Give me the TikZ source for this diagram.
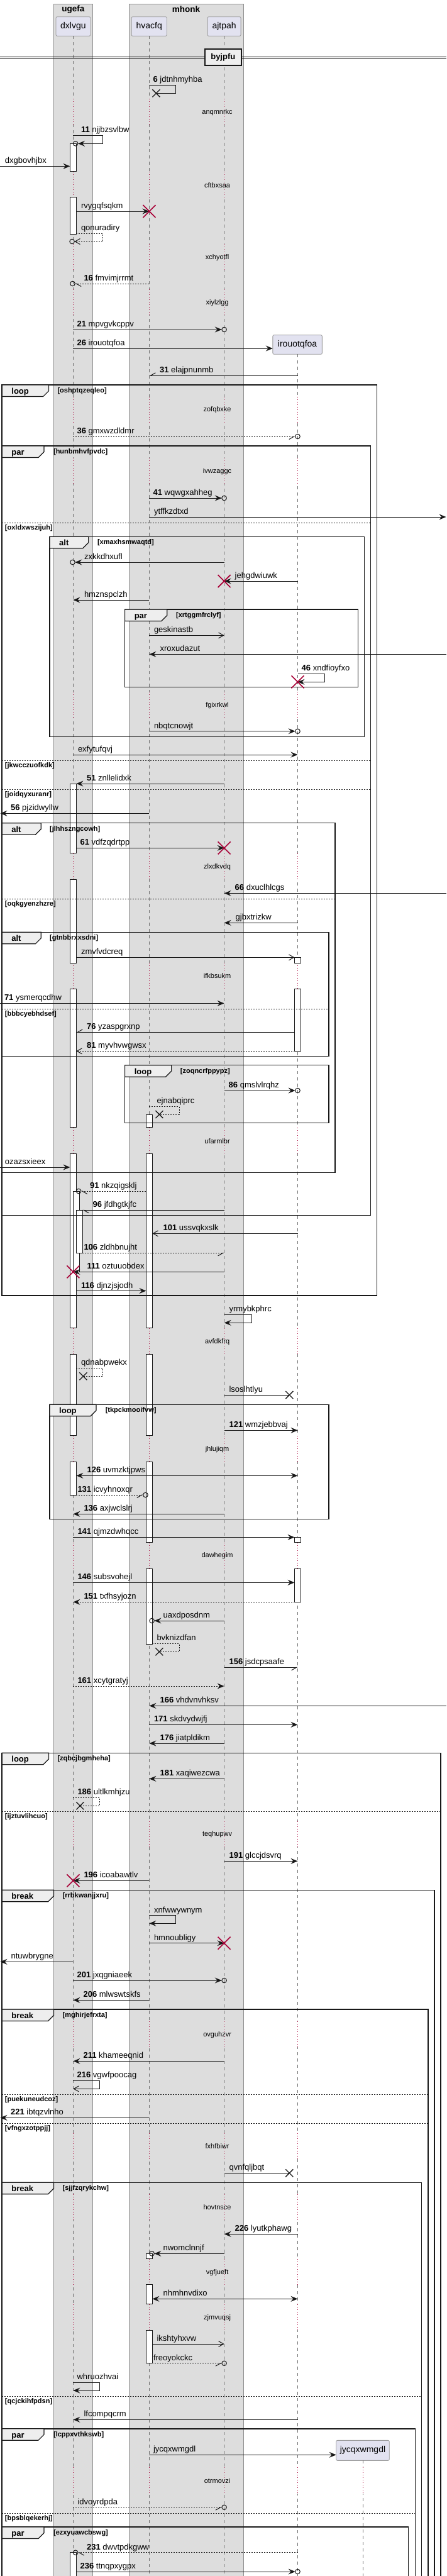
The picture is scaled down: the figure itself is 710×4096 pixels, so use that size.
\documentclass[tikz,border=0pt]{standalone}
\usepackage{fontspec}
\setmainfont{Liberation Sans}
\usetikzlibrary{arrows.meta}
\definecolor{grp}{HTML}{DDDDDD}
\definecolor{grpb}{HTML}{8E8E8E}
\definecolor{partf}{HTML}{E2E2F0}
\definecolor{partb}{HTML}{9A9A9A}
\definecolor{crim}{HTML}{A80036}
\definecolor{tabf}{HTML}{EEEEEE}
\definecolor{ink}{HTML}{181818}
\definecolor{lifec}{HTML}{707070}
\tikzset{
 part/.style={draw=partb,fill=partf,rounded corners=2pt,inner sep=0pt,minimum height=30.6pt,font=\fontsize{14}{16}\selectfont,line width=0.8pt},
 gtitle/.style={inner sep=0pt,font=\bfseries\fontsize{13.5}{15}\selectfont},
 life/.style={draw=lifec,line width=0.8pt,dash pattern=on 5pt off 5pt},
 dly/.style={draw=crim,line width=0.8pt,dash pattern=on 1pt off 3pt},
 dtext/.style={font=\fontsize{11}{13}\selectfont,inner sep=0pt},
 lab/.style={anchor=base west,inner sep=0pt,font=\fontsize{13}{15}\selectfont},
 msg/.style={draw=ink,line width=1pt},
 ret/.style={dash pattern=on 2pt off 2pt},
 fa/.style={-{Stealth[length=11pt,width=9pt,inset=4pt]}},
 ba/.style={{Stealth[length=11pt,width=9pt,inset=4pt]}-{Stealth[length=11pt,width=9pt,inset=4pt]}},
 oa/.style={-{Straight Barb[length=8pt,width=9pt]}},
 ha/.style={-{Straight Barb[harpoon,length=8pt,width=9pt]}},
 hb/.style={-{Straight Barb[harpoon,swap,length=8pt,width=9pt]}},
 frame/.style={draw=ink,line width=1.5pt},
 sepl/.style={draw=ink,line width=1pt,dash pattern=on 2pt off 2pt},
 tabt/.style={anchor=base west,inner sep=0pt,font=\bfseries\fontsize{13}{15}\selectfont},
 cond/.style={anchor=west,inner sep=0pt,font=\bfseries\fontsize{11}{13}\selectfont},
 actbar/.style={draw=ink,fill=white,line width=1pt},
}
\newcommand\qMsg[6]{%
 \coordinate (ms) at (#2,#1); \coordinate (mt) at (#3,#1);
 \draw[msg,#4] (ms) -- (mt);
 \node[lab] at (#5,#1-4.5) {#6};}
\newcommand\qSelf[8]{%
 \coordinate (ss) at (#1,#2); \coordinate (sa) at (#3,#2);
 \coordinate (sb) at (#3,#4); \coordinate (se) at (#5,#4);
 \draw[msg,#6] (ss) -- (sa) -- (sb) -- (se);
 \node[lab] at (#7,#2-4.5) {#8};}
\newcommand\qCirc[2]{\draw[ink,line width=1pt] (#1,#2) circle (3.8);}
\newcommand\qRX[2]{\draw[crim,line width=1.6pt] (#1-10,#2-10) -- (#1+10,#2+10) (#1-10,#2+10) -- (#1+10,#2-10);}
\newcommand\qBX[2]{\draw[ink,line width=1.3pt] (#1-6,#2-6) -- (#1+6,#2+6) (#1-6,#2+6) -- (#1+6,#2-6);}
\newcommand\qBar[3]{\draw[actbar] (#1-5,#2) rectangle (#1+5,#3);}
\newcommand\qFrm[8]{%
 \draw[frame] (#1,#2) rectangle (#3,#4);
 \filldraw[fill=tabf,draw=ink,line width=1.2pt] (#1,#2) -- (#6,#2) -- (#6,#2+9.5) -- (#6-9,#2+18.5) -- (#1,#2+18.5) -- cycle;
 \node[tabt] at (#1+15,#2+14.5) {#5};
 \node[cond] at (#8,#2+9.7) {#7};}
\newcommand\qSep[4]{%
 \draw[sepl] (#1,#3) -- (#2,#3);
 \node[cond] at (7.8,#3+8.3) {#4};}
\begin{document}
\begin{tikzpicture}[x=1pt,y=-1pt]
\useasboundingbox (0,0) rectangle (710,4096);
\clip (0,0) rectangle (710,4096);
\fill[white] (0,0) rectangle (710,4096);
% group boxes
\draw[fill=grp,draw=grpb,line width=1pt] (85.4,6) rectangle (147.5,4200);
\draw[fill=grp,draw=grpb,line width=1pt] (205,6) rectangle (387.6,4200);
\node[gtitle] (gU) at (116.4,14.7) {ugefa};
\node[gtitle] (gM) at (295.9,14.7) {mhonk};
% participants
\node[part,minimum width=54.8pt] (pA) at (116.4,42) {dxlvgu};
\node[part,minimum width=56.2pt] (pB) at (237.2,42) {hvacfq};
\node[part,minimum width=53pt] (pC) at (356.6,42) {ajtpah};
\node[part,minimum width=78.5pt] (pD) at (473.1,548) {irouotqfoa};
\node[part,minimum width=84.5pt,minimum height=32pt] (pE) at (577,3896.3) {jycqxwmgdl};
% lifelines
\coordinate (eA) at (116.4,4200); \coordinate (eB) at (237.4,4200);
\coordinate (eC) at (356.6,4200); \coordinate (eD) at (473.5,4200);
\coordinate (eE) at (577.1,4200);
\draw[life] (116.4,57.3) -- (eA);
\draw[life] (237.4,57.3) -- (eB);
\draw[life] (356.6,57.3) -- (eC);
\draw[life] (473.5,563.3) -- (eD);
\draw[life] (577.1,3912.3) -- (eE);
% delays
\foreach \yy/\dt in {178.3/anqmnrkc,294.3/cftbxsaa,409.3/xchyotfl,481.3/xiylzlgg}{
  \foreach \xx in {116.4,237.4,356.6}{
    \fill[grp] (\xx-1.5,\yy-21.3) rectangle (\xx+1.5,\yy+20);
    \draw[dly] (\xx,\yy-21.3) -- (\xx,\yy+20);}
  \node[dtext] at (345.6,\yy) {\dt};}
\foreach \yy/\dt in {652/zofqbxke,749.3/ivwzaggc,1121.3/fgixrkwl,1378.3/zlxdkvdq,1552/ifkbsukm,1814.3/ufarmlbr,2133.3/avfdkfrq,2304.3/jhlujiqm,2474/dawhegim,2917/teqhupwv,3235.3/ovguhzvr,3413/fxhfbiwr,3510/hovtnsce,3613.3/vgfjueft,3685.3/zjmvuqsj}{
  \foreach \xx in {116.4,237.4,356.6}{
    \fill[grp] (\xx-1.5,\yy-21.3) rectangle (\xx+1.5,\yy+20);
    \draw[dly] (\xx,\yy-21.3) -- (\xx,\yy+20);}
  \fill[white] (473.5-1.5,\yy-21.3) rectangle (473.5+1.5,\yy+20);
  \draw[dly] (473.5,\yy-21.3) -- (473.5,\yy+20);
  \node[dtext] at (345.6,\yy) {\dt};}
\foreach \yy/\dt in {3944.7/otrmovzi}{
  \foreach \xx in {116.4,237.4,356.6}{
    \fill[grp] (\xx-1.5,\yy-21.3) rectangle (\xx+1.5,\yy+20);
    \draw[dly] (\xx,\yy-21.3) -- (\xx,\yy+20);}
  \foreach \xx in {473.5,577.1}{
    \fill[white] (\xx-1.5,\yy-21.3) rectangle (\xx+1.5,\yy+20);
    \draw[dly] (\xx,\yy-21.3) -- (\xx,\yy+20);}
  \node[dtext] at (345.6,\yy) {\dt};}
% divider
\draw[ink,line width=1.2pt] (0,90.7) -- (710,90.7) (0,93.3) -- (710,93.3);
\node[draw=ink,fill=tabf,line width=2pt,minimum width=58pt,minimum height=26pt,inner sep=0pt,font=\bfseries\fontsize{13}{15}\selectfont] (dv) at (354.8,91) {byjpfu};
% activation bars
\qBar{116.4}{228.3}{272.3}
\qBar{116.4}{313.3}{372}
\qBar{116.4}{1246}{1356.7}
\qBar{116.4}{1398}{1531.3}
\qBar{116.4}{1572}{1792.7}
\qBar{116.4}{1834}{2111.3}
\qBar{116.4}{2153}{2282.7}
\qBar{116.4}{2324}{2377}
\qBar{116.4}{4058.7}{4120}
\qBar{121.4}{1894}{2022.3}
\qBar{126.4}{1924.3}{1992.3}
\qBar{237.4}{1772}{1792.7}
\qBar{237.4}{1834}{2111.3}
\qBar{237.4}{2153}{2282.7}
\qBar{237.4}{2324}{2452.7}
\qBar{237.4}{2494}{2614}
\qBar{237.4}{3583.3}{3591.7}
\qBar{237.4}{3632.7}{3663.3}
\qBar{237.4}{3705}{3757.7}
\qBar{473.5}{1522.3}{1531.3}
\qBar{473.5}{1572}{1671.3}
\qBar{473.5}{2444.3}{2452.7}
\qBar{473.5}{2494}{2547.3}
% frames
\qFrm{3.2}{612}{599.5}{2060}{loop}{77.6}{[oshptqzeqleo]}{91.3}
\qFrm{3.2}{709}{589.5}{1932.3}{par}{69.9}{[hunbmhvfpvdc]}{84.9}
\qSep{3.2}{589.5}{831}{[oxldxwszijuh]}
\qSep{3.2}{589.5}{1209}{[jkwcczuofkdk]}
\qSep{3.2}{589.5}{1255.3}{[joidqyxuranr]}
\qFrm{79}{853.3}{579.4}{1171.3}{alt}{140.6}{[xmaxhsmwaqtd]}{154.8}
\qFrm{198.6}{969}{569.4}{1092.3}{par}{265.7}{[xrtggmfrclyf]}{279.9}
\qFrm{3.2}{1308.7}{532.9}{1864.3}{alt}{65.3}{[jlhhszngcowh]}{79}
\qSep{3.2}{532.9}{1429.3}{[oqkgyenzhzre]}
\qFrm{3.2}{1482.3}{522.8}{1679.7}{alt}{65.3}{[gtnbbrxxsdni]}{79}
\qSep{3.2}{522.8}{1604.3}{[bbbcyebhdsef]}
\qFrm{198.6}{1693.7}{522.8}{1785.3}{loop}{272.6}{[zoqncrfppypz]}{286.7}
\qFrm{79}{2233.3}{522.8}{2415.3}{loop}{153}{[tkpckmooifvw]}{167.6}
\qFrm{3.2}{2787.3}{700.9}{4200}{loop}{77.6}{[zqbcjbgmheha]}{91.3}
\qSep{3.2}{700.9}{2880.3}{[ijztuvlihcuo]}
\qFrm{3.2}{3005.3}{690.8}{4200}{break}{85.4}{[rrbkwanjjxru]}{99.5}
\qFrm{3.2}{3195}{680.8}{4200}{break}{85.4}{[mghirjefrxta]}{99.5}
\qSep{3.2}{680.8}{3330.3}{[puekuneudcoz]}
\qSep{3.2}{680.8}{3376.3}{[vfngxzotppjj]}
\qFrm{3.2}{3470.3}{670.7}{4200}{break}{85.4}{[sjjfzqrykchw]}{99.5}
\qSep{3.2}{670.7}{3810.3}{[qcjckihfpdsn]}
\qFrm{3.2}{3861.7}{660.7}{4200}{par}{69.9}{[lcppxvthkswb]}{84.9}
\qSep{3.2}{660.7}{3996.3}{[bpsblqekerhj]}
\qFrm{3.2}{4018}{649.7}{4200}{par}{69.9}{[ezxyuawcbswg]}{84.9}
% messages
\qSelf{237.4}{135.3}{279.9}{148.3}{248.4}{}{243.4}{\textbf{6} jdtnhmyhba}
\qBX{248.4}{148.3}
\qSelf{116.4}{215.3}{163.9}{228.3}{124}{fa}{128.8}{\textbf{11} njjbzsvlbw}
\qCirc{120.1}{228.3}
\qMsg{264.3}{0}{111.4}{fa}{7.8}{dxgbovhjbx}
\qMsg{336}{121.4}{237.4}{fa}{128.8}{rvygqfsqkm}
\qRX{237.4}{336}
\qSelf{121.4}{371.3}{163.9}{384}{118.4}{ret,oa}{128.8}{qonuradiry}
\qCirc{114.6}{384}
\qMsg{451}{237.4}{119.3}{ret,ha}{133.3}{\textbf{16} fmvimjrrmt}
\qCirc{115.5}{451}
\qMsg{524}{116.4}{352.8}{fa}{122.4}{\textbf{21} mpvgvkcppv}
\qCirc{356.6}{524}
\qMsg{554}{116.4}{433.8}{fa}{122.4}{\textbf{26} irouotqfoa}
\qMsg{597.3}{473.5}{237.4}{hb}{253.9}{\textbf{31} elajpnunmb}
\qMsg{694}{116.4}{469.7}{ret,hb}{122.4}{\textbf{36} gmxwzdldmr}
\qCirc{473.5}{694}
\qMsg{792}{237.4}{352.8}{fa}{243.4}{\textbf{41} wqwgxahheg}
\qCirc{356.6}{792}
\qMsg{822}{237.4}{709.5}{fa}{244.8}{ytffkzdtxd}
\qMsg{894}{356.6}{119.3}{fa}{133.8}{zxkkdhxufl}
\qCirc{115.5}{894}
\qMsg{924}{473.5}{356.6}{fa}{373.5}{jehgdwiuwk}
\qRX{356.6}{924}
\qMsg{954}{237.4}{116.4}{fa}{133.8}{hmznspclzh}
\qMsg{1010.3}{237.4}{356.6}{oa}{244.8}{geskinastb}
\qMsg{1040.3}{709.5}{237.4}{fa}{254.4}{xroxudazut}
\qSelf{473.5}{1071.3}{516}{1084.3}{473.5}{fa}{479.5}{\textbf{46} xndfioyfxo}
\qRX{473.5}{1084.3}
\qMsg{1162.7}{237.4}{469.7}{fa}{244.8}{nbqtcnowjt}
\qCirc{473.5}{1162.7}
\qMsg{1200}{116.4}{473.5}{fa}{123.8}{exfytufqvj}
\qMsg{1246}{356.6}{121.4}{fa}{137.9}{\textbf{51} znllelidxk}
\qMsg{1293.3}{237.4}{0.5}{fa}{16.9}{\textbf{56} pjzidwyllw}
\qMsg{1348.3}{121.4}{356.6}{fa}{127.4}{\textbf{61} vdfzqdrtpp}
\qRX{356.6}{1348.3}
\qMsg{1420.3}{709.5}{356.6}{fa}{373.5}{\textbf{66} dxuclhlcgs}
\qMsg{1467.3}{473.5}{356.6}{fa}{374.5}{gjbxtrizkw}
\qMsg{1522.3}{121.4}{468.5}{oa}{128.8}{zmvfvdcreq}
\qMsg{1595.3}{0}{356.6}{fa}{6.8}{\textbf{71} ysmerqcdhw}
\qMsg{1641.3}{468.5}{121.4}{hb}{137.9}{\textbf{76} yzaspgrxnp}
\qMsg{1671.3}{468.5}{121.4}{ret,oa}{137.9}{\textbf{81} myvhvwgwsx}
\qMsg{1734}{356.6}{469.7}{fa}{363.5}{\textbf{86} qmslvlrqhz}
\qCirc{473.5}{1734}
\qSelf{237.4}{1759.3}{285}{1772}{253.4}{ret}{249.3}{ejnabqiprc}
\qBX{253.4}{1772}
\qMsg{1856}{0}{111.4}{fa}{7.8}{ozazsxieex}
\qMsg{1894}{232.4}{128.9}{ret,ha}{142.9}{\textbf{91} nkzqigsklj}
\qCirc{125.1}{1894}
\qMsg{1924.3}{356.6}{131.4}{ha}{147.5}{\textbf{96} jfdhgtkjfc}
\qMsg{1961.3}{473.5}{242.4}{oa}{259.4}{\textbf{101} ussvqkxslk}
\qMsg{1992.3}{131.4}{356.6}{ret,hb}{133.3}{\textbf{106} zldhbnujht}
\qMsg{2022.3}{356.6}{116.4}{fa}{138.4}{\textbf{111} oztuuobdex}
\qRX{116.4}{2022.3}
\qMsg{2052.5}{121.4}{232.4}{fa}{128.8}{\textbf{116} djnzjsjodh}
\qSelf{356.6}{2090.3}{400}{2103.3}{356.6}{fa}{364.4}{yrmybkphrc}
\qSelf{121.4}{2175.3}{163.9}{2188.3}{132.4}{ret}{128.8}{qdnabpwekx}
\qBX{132.4}{2188.3}
\qMsg{2218}{356.6}{460.3}{}{364.4}{lsoslhtlyu}
\qBX{460.3}{2218}
\qMsg{2274.3}{356.6}{473.5}{fa}{364.4}{\textbf{121} wmzjebbvaj}
\qMsg{2346.3}{121.4}{473.5}{ba}{138.4}{\textbf{126} uvmzktjpws}
\qMsg{2377}{121.4}{227.7}{ret,hb}{123.3}{\textbf{131} icvyhnoxqr}
\qCirc{231.5}{2377}
\qMsg{2407.3}{356.6}{116.4}{fa}{133.3}{\textbf{136} axjwclslrj}
\qMsg{2444.3}{116.4}{468.5}{fa}{123.3}{\textbf{141} qjmzdwhqcc}
\qMsg{2516.3}{116.4}{468.5}{fa}{123.3}{\textbf{146} subsvohejl}
\qMsg{2547.3}{468.5}{116.4}{ret,fa}{133.3}{\textbf{151} txfhsyjozn}
\qMsg{2577}{356.6}{245.4}{fa}{259.4}{uaxdposdnm}
\qCirc{241.6}{2577}
\qSelf{242.4}{2613.3}{285}{2626.3}{253.4}{ret}{249.3}{bvknizdfan}
\qBX{253.4}{2626.3}
\qMsg{2651.3}{356.6}{473.5}{hb}{364.4}{\textbf{156} jsdcpsaafe}
\qMsg{2681}{116.4}{356.6}{ret,fa}{123.3}{\textbf{161} xcytgratyj}
\qMsg{2712.3}{709.5}{237.4}{fa}{254.4}{\textbf{166} vhdvnvhksv}
\qMsg{2742.3}{237.4}{473.5}{fa}{244.8}{\textbf{171} skdvydwjfj}
\qMsg{2772}{356.6}{237.4}{fa}{254.4}{\textbf{176} jiatpldikm}
\qMsg{2828.3}{356.6}{237.4}{fa}{254.4}{\textbf{181} xaqiwezcwa}
\qSelf{116.4}{2858.3}{158.9}{2871.3}{127.4}{ret}{123.3}{\textbf{186} ultlkmhjzu}
\qBX{127.4}{2871.3}
\qMsg{2959.3}{356.6}{473.5}{fa}{364.4}{\textbf{191} glccjdsvrq}
\qMsg{2990.3}{237.4}{116.4}{fa}{133.3}{\textbf{196} icoabawtlv}
\qRX{116.4}{2990.3}
\qSelf{237.4}{3045.7}{279.9}{3058.3}{237.4}{fa}{244.8}{xnfwwywnym}
\qMsg{3089.7}{237.4}{356.6}{fa}{244.8}{hmnoubligy}
\qRX{356.6}{3089.7}
\qMsg{3119.3}{116.4}{0.5}{fa}{17.4}{ntuwbrygne}
\qMsg{3149}{116.4}{352.8}{fa}{122.4}{\textbf{201} jxqgniaeek}
\qCirc{356.6}{3149}
\qMsg{3180.3}{237.4}{116.4}{fa}{132.4}{\textbf{206} mlwswtskfs}
\qMsg{3277.3}{356.6}{116.4}{fa}{132.4}{\textbf{211} khameeqnid}
\qSelf{116.4}{3308.3}{158.9}{3321.3}{116.4}{oa}{122.4}{\textbf{216} vgwfpoocag}
\qMsg{3367.3}{237.4}{0.5}{fa}{16.9}{\textbf{221} ibtqzvlnho}
\qMsg{3455.3}{356.6}{460.3}{}{364.4}{qvnfqljbqt}
\qBX{460.3}{3455.3}
\qMsg{3552.3}{473.5}{356.6}{fa}{373.5}{\textbf{226} lyutkphawg}
\qMsg{3583.3}{356.6}{245.4}{fa}{259.4}{nwomclnnjf}
\qCirc{241.6}{3583.3}
\qMsg{3655.3}{242.4}{473.5}{ba}{259.4}{nhmhnvdixo}
\qMsg{3727}{242.4}{356.6}{oa}{249.3}{ikshtyhxvw}
\qMsg{3757.7}{242.4}{352.8}{ret,hb}{243.8}{freoyokckc}
\qCirc{356.6}{3757.7}
\qSelf{116.4}{3788.3}{158.9}{3801}{116.4}{fa}{122.4}{whruozhvai}
\qMsg{3847.3}{473.5}{116.4}{fa}{133.3}{lfcompqcrm}
\qMsg{3903.3}{237.4}{534.7}{fa}{243.8}{jycqxwmgdl}
\qMsg{3986.7}{116.4}{352.8}{ret,hb}{123.3}{idvoyrdpda}
\qCirc{356.6}{3986.7}
\qMsg{4058.7}{473.5}{123.9}{ret,ha}{137.9}{\textbf{231} dwvtpdkgww}
\qCirc{120.1}{4058.7}
\qMsg{4089}{121.4}{469.7}{fa}{127.4}{\textbf{236} ttnqpxygpx}
\qCirc{473.5}{4089}
\end{tikzpicture}
\end{document}
